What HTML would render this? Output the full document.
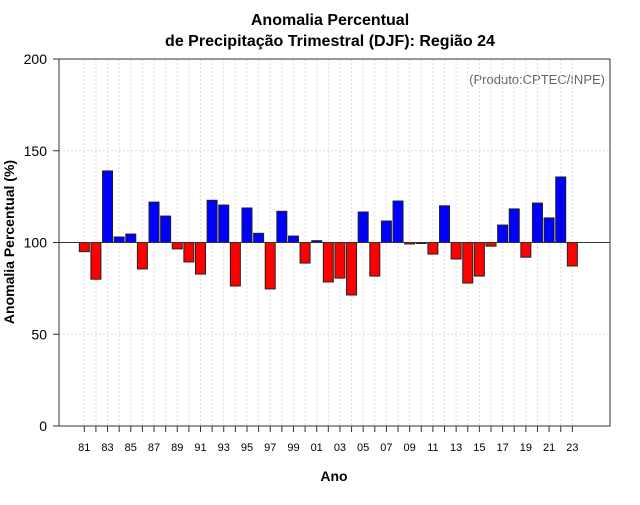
<!DOCTYPE html>
<html><head><meta charset="utf-8"><style>
body{margin:0;background:#fff;font-family:"Liberation Sans",sans-serif}
</style></head><body>
<svg width="640" height="500" xmlns="http://www.w3.org/2000/svg" style="font-family:'Liberation Sans',sans-serif">
<text x="330" y="25" text-anchor="middle" font-size="16" font-weight="bold">Anomalia Percentual</text>
<text x="330" y="46" text-anchor="middle" font-size="16" font-weight="bold">de Precipitação Trimestral (DJF): Região 24</text>
<text x="605" y="84" text-anchor="end" font-size="13" fill="#666">(Produto:CPTEC/INPE)</text>
<text x="334" y="481" text-anchor="middle" font-size="14" font-weight="bold">Ano</text>
<text transform="translate(14,242) rotate(-90)" text-anchor="middle" font-size="14" font-weight="bold">Anomalia Percentual (%)</text>
<g id="grid"></g><g id="bars"></g><g id="axes"></g>
</svg>
<script>
const years=[81,82,83,84,85,86,87,88,89,90,91,92,93,94,95,96,97,98,99,0,1,2,3,4,5,6,7,8,9,10,11,12,13,14,15,16,17,18,19,20,21,22,23];
const values=[95,80,139,103,104.6,85.6,122,114.4,96.5,89.4,82.8,123,120.4,76.3,118.8,105,74.7,117,103.5,88.8,101,78.5,80.6,71.4,116.6,81.7,111.7,122.6,99.2,99.7,93.7,120,91,77.9,81.7,98,109.5,118.3,92,121.5,113.4,135.7,87.2];
const yTicks=[0,50,100,150,200];
const NS='http://www.w3.org/2000/svg';
const L=59,R=610,T=59,B=426;
const y=v=>B-(v/200)*(B-T);
const x=i=>84.3+i*11.62;
function mk(t,a,p){const e=document.createElementNS(NS,t);for(const k in a)e.setAttribute(k,a[k]);p.appendChild(e);return e;}
const g=document.getElementById('grid'),b=document.getElementById('bars'),ax=document.getElementById('axes');
years.forEach((yr,i)=>{const l=mk('line',{x1:x(i),x2:x(i),y1:T,y2:B,stroke:'#ddd','stroke-dasharray':'2,2'},g);

});
[50,150].forEach(v=>{const l=mk('line',{x1:L,x2:R,y1:y(v),y2:y(v),stroke:'#ddd','stroke-dasharray':'2,2'},g);

});
values.forEach((v,i)=>{const top=Math.min(y(v),y(100)),h=Math.abs(y(v)-y(100));
const r=mk('rect',{x:x(i)-5,y:top,width:10,height:Math.max(h,1),fill:v>=100?'#0000ff':'#ff0000',stroke:'#222','stroke-width':1},b);

});
const ref=mk('line',{x1:L,x2:R,y1:y(100),y2:y(100),stroke:'#333','stroke-width':1},ax);


const box=mk('rect',{x:L,y:T,width:R-L,height:B-T,fill:'none',stroke:'#333'},ax);


yTicks.forEach(v=>{mk('line',{x1:L-6,x2:L,y1:y(v),y2:y(v),stroke:'#333'},ax);
const t=mk('text',{x:L-12,y:y(v)+5,'text-anchor':'end','font-size':14},ax);t.textContent=v;

});
years.forEach((yr,i)=>{mk('line',{x1:x(i),x2:x(i),y1:B,y2:B+6,stroke:'#333'},ax);
if(i%2==0){const t=mk('text',{x:x(i),y:B+25,'text-anchor':'middle','font-size':11},ax);t.textContent=String(yr).padStart(2,'0');

}});
</script>
</body></html>
